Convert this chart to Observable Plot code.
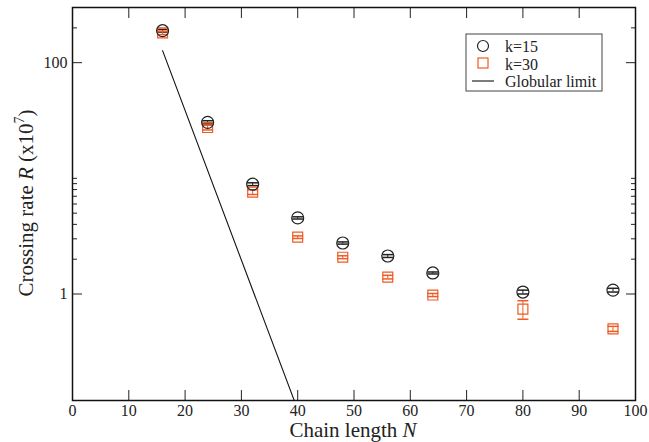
<!DOCTYPE html>
<html>
<head>
<meta charset="utf-8">
<script src="https://cdn.jsdelivr.net/npm/d3@7"></script>
<script src="https://cdn.jsdelivr.net/npm/@observablehq/plot@0.6"></script>
<style>
  html, body { margin: 0; padding: 0; background: #fff; }
  #chart { width: 649px; height: 442px; }
</style>
</head>
<body>
<div id="chart"></div>
<script>
// ---- data ----
const chainN   = [16, 24, 32, 40, 48, 56, 64, 80, 96];
const k15Rate  = [189, 30.5, 8.9, 4.55, 2.76, 2.13, 1.52, 1.04, 1.08];
const k15Err   = [5, 1.0, 0.25, 0.10, 0.06, 0.06, 0.03, 0.04, 0.04];
const k30Rate  = [181, 27.5, 7.6, 3.1, 2.08, 1.40, 0.98, 0.74, 0.50];
const k30Err   = [6, 1.3, 0.35, 0.08, 0.06, 0.05, 0.03, 0.135, 0.025];
const globN    = [16, 40];
const globRate = [127, 0.10];
const xTicks      = [0, 10, 20, 30, 40, 50, 60, 70, 80, 90, 100];
const yMajorTicks = [1, 100];
const yMinorTicks = [2, 3, 4, 5, 6, 7, 8, 9, 10, 200];
const seriesNames = ["k=15", "k=30", "Globular limit"];

const orange = "#ef5b25";
const dark = "#222";
const serif = "'Liberation Serif', 'Times New Roman', Times, 'DejaVu Serif', serif";

const k15 = chainN.map((n, i) => ({N: n, R: k15Rate[i], lo: k15Rate[i] - k15Err[i], hi: k15Rate[i] + k15Err[i]}));
const k30 = chainN.map((n, i) => ({N: n, R: k30Rate[i], lo: k30Rate[i] - k30Err[i], hi: k30Rate[i] + k30Err[i]}));
const glob = globN.map((n, i) => ({N: n, R: globRate[i]}));

// horizontal cap symbol for error bars
const capSymbol = { draw(ctx, size) { const w = Math.sqrt(size / Math.PI); ctx.moveTo(-w, 0); ctx.lineTo(w, 0); } };

const plot = Plot.plot({
  width: 649,
  height: 442,
  marginLeft: 72,
  marginRight: 14,
  marginTop: 7,
  marginBottom: 42,
  style: { fontFamily: serif, fontSize: "16px", color: "#222", background: "#fff" },
  x: { type: "linear", domain: [0, 100] },
  y: { type: "log", domain: [0.12, 300] },
  marks: [
    // globular limit line
    Plot.line(glob, { x: "N", y: "R", stroke: "#111", strokeWidth: 1.1, clip: true }),
    // error bars
    Plot.ruleX(k15, { x: "N", y1: "lo", y2: "hi", stroke: dark, strokeWidth: 1 }),
    Plot.dot(k15, { x: "N", y: "lo", symbol: capSymbol, r: 5.5, stroke: dark, fill: "none" }),
    Plot.dot(k15, { x: "N", y: "hi", symbol: capSymbol, r: 5.5, stroke: dark, fill: "none" }),
    Plot.ruleX(k30, { x: "N", y1: "lo", y2: "hi", stroke: orange, strokeWidth: 1 }),
    Plot.dot(k30, { x: "N", y: "lo", symbol: capSymbol, r: 5.5, stroke: orange, fill: "none" }),
    Plot.dot(k30, { x: "N", y: "hi", symbol: capSymbol, r: 5.5, stroke: orange, fill: "none" }),
    // markers
    Plot.dot(k30, { x: "N", y: "R", symbol: "square", r: 5.6, stroke: orange, strokeWidth: 1.2, fill: "none" }),
    Plot.dot(k15, { x: "N", y: "R", symbol: "circle", r: 6, stroke: dark, strokeWidth: 1.2, fill: "none" }),
    // x axis: labels + inward ticks (bottom and top)
    Plot.axisX({ anchor: "bottom", ticks: xTicks, tickSize: 0, tickPadding: 4, fontSize: 16, label: null }),
    Plot.axisX({ anchor: "bottom", ticks: xTicks, tickSize: -10, tickFormat: () => "", label: null, stroke: dark }),
    Plot.axisX({ anchor: "top", ticks: xTicks, tickSize: -10, tickFormat: () => "", label: null, stroke: dark }),
    // y axis: labels + inward ticks (left and right)
    Plot.axisY({ anchor: "left", ticks: yMajorTicks, tickSize: 0, tickPadding: 5, tickFormat: d3.format("d"), fontSize: 16, label: null }),
    Plot.axisY({ anchor: "left", ticks: yMajorTicks, tickSize: -10, tickFormat: () => "", label: null, stroke: dark }),
    Plot.axisY({ anchor: "right", ticks: yMajorTicks, tickSize: -10, tickFormat: () => "", label: null, stroke: dark }),
    Plot.axisY({ anchor: "left", ticks: yMinorTicks, tickSize: -5, tickFormat: () => "", label: null, stroke: dark }),
    Plot.axisY({ anchor: "right", ticks: yMinorTicks, tickSize: -5, tickFormat: () => "", label: null, stroke: dark }),
    Plot.frame({ stroke: "#111", strokeWidth: 1.5 })
  ]
});

document.getElementById("chart").appendChild(plot);

// axis titles with italic symbols and superscript
const svg = d3.select(plot);
const xt = svg.append("text")
  .attr("x", 353).attr("y", 437)
  .attr("text-anchor", "middle")
  .style("font-family", serif).style("font-size", "21px").attr("fill", "#222");
xt.append("tspan").text("Chain length ");
xt.append("tspan").style("font-style", "italic").text("N");

const yt = svg.append("text")
  .attr("transform", "translate(33,203) rotate(-90)")
  .attr("text-anchor", "middle")
  .style("font-family", serif).style("font-size", "21px").attr("fill", "#222");
yt.append("tspan").text("Crossing rate ");
yt.append("tspan").style("font-style", "italic").text("R");
yt.append("tspan").text(" (x10");
yt.append("tspan").attr("dy", -9).style("font-size", "14px").text("7");
yt.append("tspan").attr("dy", 9).text(")");

// legend box inside the plot
const lg = svg.append("g").style("font-family", serif).style("font-size", "16px").attr("text-anchor", "start");
lg.append("rect").attr("x", 466).attr("y", 34).attr("width", 136).attr("height", 57)
  .attr("fill", "#fff").attr("stroke", "#444").attr("stroke-width", 1);
lg.append("circle").attr("cx", 483).attr("cy", 46).attr("r", 5.5).attr("fill", "none").attr("stroke", dark).attr("stroke-width", 1.2);
lg.append("rect").attr("x", 478).attr("y", 58).attr("width", 10).attr("height", 10).attr("fill", "none").attr("stroke", orange).attr("stroke-width", 1.2);
lg.append("line").attr("x1", 472).attr("x2", 494).attr("y1", 81).attr("y2", 81).attr("stroke", "#111").attr("stroke-width", 1.1);
seriesNames.forEach((name, i) => {
  lg.append("text").attr("x", 505).attr("y", 52 + i * 17.5).attr("text-anchor", "start").attr("fill", "#222").text(name);
});
</script>
</body>
</html>
